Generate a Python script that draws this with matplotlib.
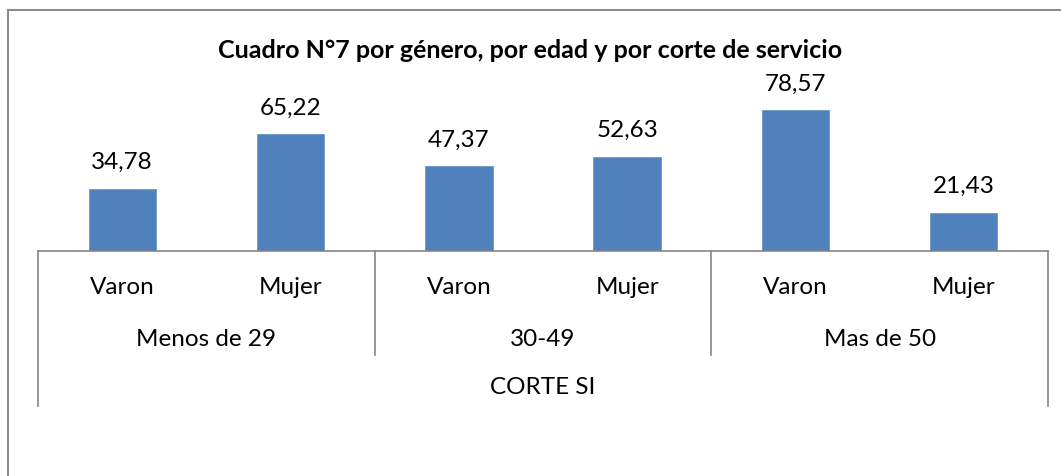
"""
Cuadro N°7: porcentaje por género, edad y corte de servicio
"""

import matplotlib
matplotlib.use("Agg")
import matplotlib.pyplot as plt
from matplotlib.lines import Line2D

plt.rcParams["font.family"] = ["Lato", "DejaVu Sans"]

# data
generos = ["Varon", "Mujer", "Varon", "Mujer", "Varon", "Mujer"]
edades = ["Menos de 29", "30-49", "Mas de 50"]
corte = "CORTE SI"
valores = [34.78, 65.22, 47.37, 52.63, 78.57, 21.43]
titulo = "Cuadro N°7 por género, por edad y por corte de servicio"

W, H = 1061, 477
fig = plt.figure(figsize=(W / 100, H / 100), dpi=100)

# axes placed in pixel terms: x from 38 to 1048, baseline at y=252, top at y=90
ax_left, ax_right, ax_base, ax_top = 38, 1048, 252, 90
ax = fig.add_axes([ax_left / W, (H - ax_base) / H,
                   (ax_right - ax_left) / W, (ax_base - ax_top) / H])
ax_h = ax_base - ax_top
fs = 17.5

x = list(range(len(valores)))
ax.bar(x, valores, width=0.4, color="#4F81BD", edgecolor="#6C98CC", linewidth=0.6)
ax.set_xlim(-0.5, len(valores) - 0.5)
ax.set_ylim(0, ax_h / 1.795)

for xi, v in zip(x, valores):
    ax.annotate(f"{v:.2f}".replace(".", ","), (xi, v), xytext=(0, 19.5),
                textcoords="offset points", ha="center", va="center", fontsize=fs)

# axis styling
for s in ["top", "right", "left"]:
    ax.spines[s].set_visible(False)
ax.spines["bottom"].set_color("#868686")
ax.spines["bottom"].set_linewidth(1.2)
ax.set_xticks([])
ax.set_yticks([])

# multi-level category labels
tr = ax.get_xaxis_transform()


def frac(py):
    return (ax_base - py) / ax_h


for xi, g in zip(x, generos):
    ax.text(xi, frac(287), g, transform=tr, ha="center", va="center", fontsize=fs)
for i, e in enumerate(edades):
    ax.text(2 * i + 0.5, frac(339), e, transform=tr, ha="center", va="center", fontsize=fs)
ax.text(2.5, frac(388), corte, transform=tr, ha="center", va="center", fontsize=fs)

line_kw = dict(transform=tr, color="#868686", linewidth=1.2, clip_on=False)
for sep in [1.5, 3.5]:
    ax.add_line(Line2D([sep, sep], [0, frac(356)], **line_kw))
for edge in [-0.5, len(valores) - 0.5]:
    ax.add_line(Line2D([edge, edge], [0, frac(407)], **line_kw))

# title
fig.text(0.5, 1 - 51 / H, titulo, ha="center", va="center", fontsize=18, fontweight="bold")

# outer chart border (left and top only visible)
border_kw = dict(transform=fig.transFigure, color="#8C8C8C", linewidth=1.5)
fig.add_artist(Line2D([8 / W, 8 / W], [0, 1 - 11 / H], **border_kw))
fig.add_artist(Line2D([8 / W, 1], [1 - 11 / H, 1 - 11 / H], **border_kw))

plt.savefig("out.png", dpi=100)
